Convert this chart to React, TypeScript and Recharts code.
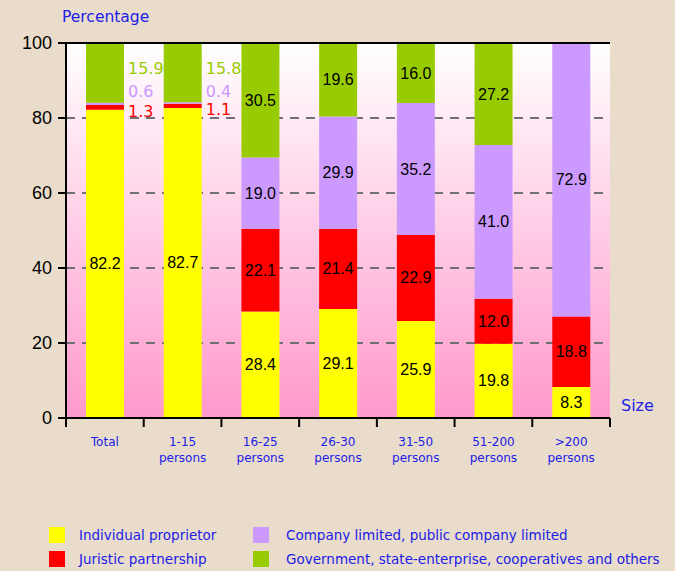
import React from "react"
import { BarChart, Bar, XAxis, YAxis, CartesianGrid, LabelList, ReferenceLine } from "recharts"

const categories = ["Total", "1-15\npersons", "16-25\npersons", "26-30\npersons", "31-50\npersons", "51-200\npersons", ">200\npersons"]
const individual = [82.2, 82.7, 28.4, 29.1, 25.9, 19.8, 8.3]
const juristic = [1.3, 1.1, 22.1, 21.4, 22.9, 12.0, 18.8]
const company = [0.6, 0.4, 19.0, 29.9, 35.2, 41.0, 72.9]
const government = [15.9, 15.8, 30.5, 19.6, 16.0, 27.2, 0]
const yTicks = [0, 20, 40, 60, 80, 100]
// categories whose small segments are labelled beside the bar
const outsideIdx = [0, 1]

const BLUE = "#2020e8"
const W = 675
const H = 571
const PLOT_LEFT = 66
const PLOT_RIGHT = 610
const BAND = (PLOT_RIGHT - PLOT_LEFT) / categories.length

const data = categories.map((name, i) => ({
  name,
  individual: individual[i],
  juristic: juristic[i],
  company: company[i],
  government: government[i],
}))

const series = [
  { key: "individual", name: "Individual proprietor", color: "#ffff00", text: "#000", dy: 0 },
  { key: "juristic", name: "Juristic partnership", color: "#ff0000", text: "#ff0000", dy: 4 },
  { key: "company", name: "Company limited, public company limited", color: "#cc99ff", text: "#cc99ff", dy: -12 },
  { key: "government", name: "Government, state-enterprise, cooperatives and others", color: "#99cc00", text: "#99cc00", dy: -4 },
]

function makeLabel(s: typeof series[number]) {
  return (props: any) => {
    const { x, y, width, height, value, index } = props
    if (!value) return null
    const cx = Number(x) + Number(width) / 2
    const cy = Number(y) + Number(height) / 2
    if (outsideIdx.includes(index) && s.key !== "individual") {
      return (
        <text x={Number(x) + Number(width) + 4} y={cy + s.dy} dominantBaseline="central" fontSize={16}
          fontFamily="Tahoma, 'DejaVu Sans', sans-serif" fill={s.text}>
          {Number(value).toFixed(1)}
        </text>
      )
    }
    return (
      <text x={cx} y={cy} textAnchor="middle" dominantBaseline="central" fontSize={16}
        fontFamily="'Liberation Sans', Arial, sans-serif" fill="#000">
        {Number(value).toFixed(1)}
      </text>
    )
  }
}

function XTick(props: any) {
  const { x, y, payload, index } = props
  const lines = String(payload.value).split("\n")
  return (
    <g>
      <line x1={x - BAND / 2} x2={x - BAND / 2} y1={y - 8} y2={y + 1} stroke="#000" strokeWidth={2} />
      {index === categories.length - 1 && (
        <line x1={x + BAND / 2} x2={x + BAND / 2} y1={y - 8} y2={y + 1} stroke="#000" strokeWidth={2} />
      )}
      {lines.map((l, i) => (
        <text key={i} x={x} y={y + 20 + i * 16} textAnchor="middle" fontSize={12}
          fontFamily="Tahoma, 'DejaVu Sans', sans-serif" fill={BLUE}>
          {l}
        </text>
      ))}
    </g>
  )
}

export default function App() {
  return (
    <div style={{ position: "absolute", left: 0, top: 0, width: W, height: H, background: "#e9dccb", overflow: "hidden",
      fontFamily: "Tahoma, 'DejaVu Sans', sans-serif" }}>
      <BarChart width={W} height={H} data={data} barSize={38}
        margin={{ top: 43, right: W - PLOT_RIGHT, bottom: 103, left: 0 }}>
        <defs>
          <linearGradient id="plotBg" x1="0" y1="0" x2="0" y2="1">
            <stop offset="0%" stopColor="#ffffff" />
            <stop offset="100%" stopColor="#ff99cc" />
          </linearGradient>
        </defs>
        <CartesianGrid vertical={false} stroke="#707070" strokeWidth={2} strokeDasharray="9 7"
          fill="url(#plotBg)" fillOpacity={1} />
        <XAxis dataKey="name" height={50} interval={0} tickLine={false} tick={<XTick />}
          axisLine={{ stroke: "#000", strokeWidth: 2 }} />
        <YAxis domain={[0, 100]} ticks={yTicks} width={PLOT_LEFT} tickSize={8} tickMargin={6}
          axisLine={{ stroke: "#000", strokeWidth: 2 }} tickLine={{ stroke: "#000", strokeWidth: 2 }}
          tick={{ fill: "#000", fontSize: 18, fontFamily: "'Liberation Sans', Arial, sans-serif" }} />
        <YAxis yAxisId="r" orientation="right" width={0} tick={false} tickLine={false}
          axisLine={{ stroke: "#000", strokeWidth: 2 }} />
        {series.map(s => (
          <Bar key={s.key} dataKey={s.key} name={s.name} stackId="a" fill={s.color} isAnimationActive={false}>
            <LabelList dataKey={s.key} content={makeLabel(s)} />
          </Bar>
        ))}
        <ReferenceLine y={100} stroke="#000" strokeWidth={2} />
      </BarChart>

      <div style={{ position: "absolute", left: 62, top: 8, color: BLUE, fontSize: 15.5 }}>Percentage</div>
      <div style={{ position: "absolute", left: 621, top: 396, color: BLUE, fontSize: 16 }}>Size</div>

      {series.map((s, i) => {
        const col = i === 0 || i === 1 ? 0 : 1
        const row = i === 0 || i === 2 ? 0 : 1
        const left = col === 0 ? 49 : 253
        const top = row === 0 ? 527 : 551
        return (
          <div key={s.key} style={{ position: "absolute", left, top, display: "flex", alignItems: "center" }}>
            <div style={{ width: 16, height: 16, background: s.color }} />
            <div style={{ marginLeft: col === 0 ? 14 : 17, color: BLUE, fontSize: 13.5, whiteSpace: "nowrap" }}>{s.name}</div>
          </div>
        )
      })}
    </div>
  )
}
